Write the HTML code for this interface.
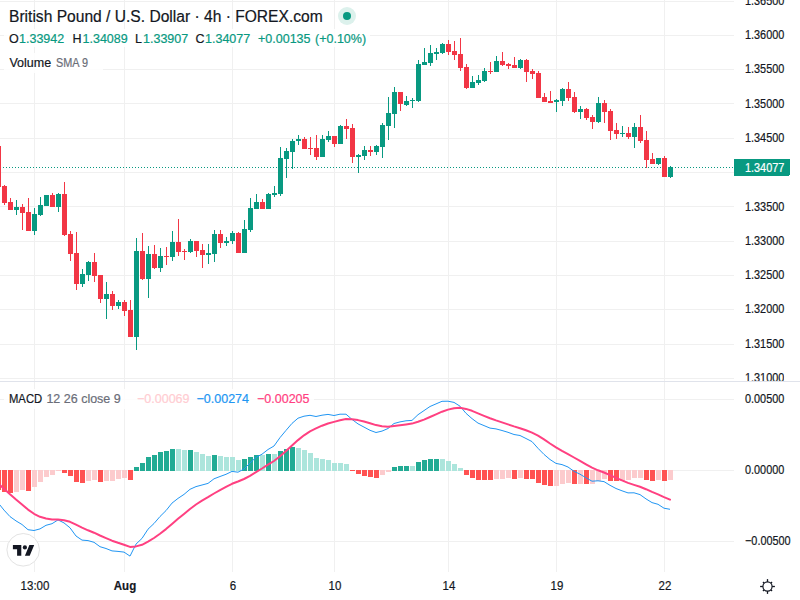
<!DOCTYPE html>
<html><head><meta charset="utf-8">
<style>
html,body{margin:0;padding:0;}
body{width:800px;height:600px;overflow:hidden;background:#fff;position:relative;font-family:"Liberation Sans",sans-serif;color:#131722;-webkit-text-stroke:0.2px currentColor;}
svg{position:absolute;left:0;top:0;}
.t{position:absolute;white-space:pre;line-height:1;}
.ax{position:absolute;left:744.8px;font-size:12.5px;white-space:pre;line-height:12px;transform:scaleX(0.87);transform-origin:0 0;}
.tm{position:absolute;top:580px;font-size:12.5px;white-space:pre;line-height:12px;transform:translateX(-50%) scaleX(0.92);}
.g{color:#089981;}
</style></head><body>
<svg width="800" height="600" viewBox="0 0 800 600" shape-rendering="crispEdges">
<rect x="0" y="1" width="734" height="1" fill="#f0f0f0"/>
<rect x="0" y="35" width="734" height="1" fill="#f0f0f0"/>
<rect x="0" y="69" width="734" height="1" fill="#f0f0f0"/>
<rect x="0" y="103" width="734" height="1" fill="#f0f0f0"/>
<rect x="0" y="138" width="734" height="1" fill="#f0f0f0"/>
<rect x="0" y="172" width="734" height="1" fill="#f0f0f0"/>
<rect x="0" y="206" width="734" height="1" fill="#f0f0f0"/>
<rect x="0" y="241" width="734" height="1" fill="#f0f0f0"/>
<rect x="0" y="275" width="734" height="1" fill="#f0f0f0"/>
<rect x="0" y="309" width="734" height="1" fill="#f0f0f0"/>
<rect x="0" y="344" width="734" height="1" fill="#f0f0f0"/>
<rect x="0" y="378" width="734" height="1" fill="#f0f0f0"/>
<rect x="0" y="399" width="734" height="1" fill="#f0f0f0"/>
<rect x="0" y="470" width="734" height="1" fill="#f0f0f0"/>
<rect x="0" y="541" width="734" height="1" fill="#f0f0f0"/>
<rect x="34" y="0" width="1" height="572" fill="#f0f0f0"/>
<rect x="124" y="0" width="1" height="572" fill="#f0f0f0"/>
<rect x="232" y="0" width="1" height="572" fill="#f0f0f0"/>
<rect x="334" y="0" width="1" height="572" fill="#f0f0f0"/>
<rect x="448" y="0" width="1" height="572" fill="#f0f0f0"/>
<rect x="556" y="0" width="1" height="572" fill="#f0f0f0"/>
<rect x="664" y="0" width="1" height="572" fill="#f0f0f0"/>
<rect x="4" y="29" width="366" height="18" fill="#fff" fill-opacity="0.85"/>
<rect x="4" y="53" width="99" height="20" fill="#fff" fill-opacity="0.85"/>
<rect x="4" y="389" width="310" height="20" fill="#fff" fill-opacity="0.85"/>
<rect x="0" y="381" width="800" height="1" fill="#e0e3eb"/>
<line x1="0" y1="167.5" x2="734" y2="167.5" stroke="#089981" stroke-width="1" stroke-dasharray="1 2"/>
<rect x="-2" y="146.0" width="1" height="41.0" fill="#F23645"/>
<rect x="-4" y="146.0" width="5" height="41.0" fill="#F23645"/>
<rect x="4" y="185.0" width="1" height="19.5" fill="#F23645"/>
<rect x="2" y="186.0" width="5" height="17.0" fill="#F23645"/>
<rect x="10" y="198.0" width="1" height="12.0" fill="#F23645"/>
<rect x="8" y="202.0" width="5" height="8.0" fill="#F23645"/>
<rect x="16" y="200.0" width="1" height="15.0" fill="#089981"/>
<rect x="14" y="207.0" width="5" height="3.0" fill="#089981"/>
<rect x="22" y="204.0" width="1" height="26.0" fill="#F23645"/>
<rect x="20" y="207.0" width="5" height="6.0" fill="#F23645"/>
<rect x="28" y="198.0" width="1" height="33.0" fill="#F23645"/>
<rect x="26" y="212.0" width="5" height="19.0" fill="#F23645"/>
<rect x="34" y="208.0" width="1" height="27.0" fill="#089981"/>
<rect x="32" y="214.0" width="5" height="17.0" fill="#089981"/>
<rect x="40" y="197.0" width="1" height="19.0" fill="#089981"/>
<rect x="38" y="205.0" width="5" height="10.0" fill="#089981"/>
<rect x="46" y="195.0" width="1" height="11.0" fill="#089981"/>
<rect x="44" y="195.0" width="5" height="11.0" fill="#089981"/>
<rect x="52" y="193.0" width="1" height="14.0" fill="#F23645"/>
<rect x="50" y="195.0" width="5" height="12.0" fill="#F23645"/>
<rect x="58" y="193.0" width="1" height="19.0" fill="#089981"/>
<rect x="56" y="194.0" width="5" height="13.0" fill="#089981"/>
<rect x="64" y="182.0" width="1" height="54.0" fill="#F23645"/>
<rect x="62" y="194.0" width="5" height="41.0" fill="#F23645"/>
<rect x="70" y="231.0" width="1" height="30.0" fill="#F23645"/>
<rect x="68" y="234.0" width="5" height="20.0" fill="#F23645"/>
<rect x="76" y="232.0" width="1" height="58.0" fill="#F23645"/>
<rect x="74" y="253.0" width="5" height="31.0" fill="#F23645"/>
<rect x="82" y="269.0" width="1" height="18.0" fill="#089981"/>
<rect x="80" y="274.0" width="5" height="10.0" fill="#089981"/>
<rect x="88" y="261.0" width="1" height="20.0" fill="#089981"/>
<rect x="86" y="262.0" width="5" height="13.0" fill="#089981"/>
<rect x="94" y="253.0" width="1" height="29.0" fill="#F23645"/>
<rect x="92" y="262.0" width="5" height="14.0" fill="#F23645"/>
<rect x="100" y="275.0" width="1" height="28.0" fill="#F23645"/>
<rect x="98" y="275.0" width="5" height="24.0" fill="#F23645"/>
<rect x="106" y="282.0" width="1" height="37.0" fill="#089981"/>
<rect x="104" y="294.0" width="5" height="5.0" fill="#089981"/>
<rect x="112" y="291.0" width="1" height="19.0" fill="#F23645"/>
<rect x="110" y="294.0" width="5" height="12.0" fill="#F23645"/>
<rect x="118" y="300.0" width="1" height="9.0" fill="#089981"/>
<rect x="116" y="302.0" width="5" height="4.0" fill="#089981"/>
<rect x="124" y="300.0" width="1" height="16.0" fill="#F23645"/>
<rect x="122" y="302.0" width="5" height="9.0" fill="#F23645"/>
<rect x="130" y="300.0" width="1" height="37.0" fill="#F23645"/>
<rect x="128" y="310.0" width="5" height="27.0" fill="#F23645"/>
<rect x="136" y="238.0" width="1" height="112.0" fill="#089981"/>
<rect x="134" y="251.0" width="5" height="86.0" fill="#089981"/>
<rect x="142" y="233.0" width="1" height="47.0" fill="#F23645"/>
<rect x="140" y="251.0" width="5" height="28.0" fill="#F23645"/>
<rect x="148" y="246.0" width="1" height="52.0" fill="#089981"/>
<rect x="146" y="254.0" width="5" height="25.0" fill="#089981"/>
<rect x="154" y="245.0" width="1" height="24.0" fill="#F23645"/>
<rect x="152" y="254.0" width="5" height="14.0" fill="#F23645"/>
<rect x="160" y="248.0" width="1" height="24.0" fill="#089981"/>
<rect x="158" y="256.0" width="5" height="12.0" fill="#089981"/>
<rect x="166" y="247.0" width="1" height="18.0" fill="#F23645"/>
<rect x="164" y="256.0" width="5" height="1" fill="#F23645"/>
<rect x="172" y="231.0" width="1" height="30.0" fill="#089981"/>
<rect x="170" y="242.0" width="5" height="15.0" fill="#089981"/>
<rect x="178" y="219.0" width="1" height="37.0" fill="#F23645"/>
<rect x="176" y="242.0" width="5" height="10.0" fill="#F23645"/>
<rect x="184" y="249.0" width="1" height="11.0" fill="#F23645"/>
<rect x="182" y="251.0" width="5" height="1" fill="#F23645"/>
<rect x="190" y="239.0" width="1" height="14.0" fill="#089981"/>
<rect x="188" y="241.0" width="5" height="11.0" fill="#089981"/>
<rect x="196" y="241.0" width="1" height="15.5" fill="#F23645"/>
<rect x="194" y="241.0" width="5" height="10.0" fill="#F23645"/>
<rect x="202" y="244.0" width="1" height="24.0" fill="#F23645"/>
<rect x="200" y="250.0" width="5" height="5.0" fill="#F23645"/>
<rect x="208" y="244.0" width="1" height="20.0" fill="#089981"/>
<rect x="206" y="253.0" width="5" height="2.0" fill="#089981"/>
<rect x="214" y="230.0" width="1" height="32.0" fill="#089981"/>
<rect x="212" y="234.0" width="5" height="19.5" fill="#089981"/>
<rect x="220" y="230.0" width="1" height="18.0" fill="#F23645"/>
<rect x="218" y="234.0" width="5" height="9.0" fill="#F23645"/>
<rect x="226" y="237.0" width="1" height="9.0" fill="#089981"/>
<rect x="224" y="240.5" width="5" height="2.5" fill="#089981"/>
<rect x="232" y="231.0" width="1" height="13.0" fill="#089981"/>
<rect x="230" y="233.0" width="5" height="7.5" fill="#089981"/>
<rect x="238" y="232.0" width="1" height="21.0" fill="#F23645"/>
<rect x="236" y="233.0" width="5" height="20.0" fill="#F23645"/>
<rect x="244" y="220.0" width="1" height="33.0" fill="#089981"/>
<rect x="242" y="229.0" width="5" height="24.0" fill="#089981"/>
<rect x="250" y="198.0" width="1" height="34.0" fill="#089981"/>
<rect x="248" y="208.0" width="5" height="22.0" fill="#089981"/>
<rect x="256" y="194.0" width="1" height="15.0" fill="#089981"/>
<rect x="254" y="202.0" width="5" height="7.0" fill="#089981"/>
<rect x="262" y="199.0" width="1" height="10.0" fill="#F23645"/>
<rect x="260" y="202.0" width="5" height="7.0" fill="#F23645"/>
<rect x="268" y="193.0" width="1" height="16.0" fill="#089981"/>
<rect x="266" y="194.0" width="5" height="15.0" fill="#089981"/>
<rect x="274" y="186.0" width="1" height="11.0" fill="#089981"/>
<rect x="272" y="193.0" width="5" height="2.0" fill="#089981"/>
<rect x="280" y="147.0" width="1" height="49.0" fill="#089981"/>
<rect x="278" y="158.0" width="5" height="36.0" fill="#089981"/>
<rect x="286" y="148.0" width="1" height="30.0" fill="#089981"/>
<rect x="284" y="151.0" width="5" height="8.0" fill="#089981"/>
<rect x="292" y="139.0" width="1" height="30.0" fill="#089981"/>
<rect x="290" y="141.0" width="5" height="11.0" fill="#089981"/>
<rect x="298" y="135.0" width="1" height="10.0" fill="#089981"/>
<rect x="296" y="139.0" width="5" height="2.0" fill="#089981"/>
<rect x="304" y="137.0" width="1" height="12.0" fill="#F23645"/>
<rect x="302" y="139.0" width="5" height="10.0" fill="#F23645"/>
<rect x="310" y="137.0" width="1" height="18.0" fill="#F23645"/>
<rect x="308" y="148.0" width="5" height="1" fill="#F23645"/>
<rect x="316" y="135.0" width="1" height="25.0" fill="#F23645"/>
<rect x="314" y="148.0" width="5" height="9.0" fill="#F23645"/>
<rect x="322" y="135.0" width="1" height="22.0" fill="#089981"/>
<rect x="320" y="139.0" width="5" height="18.0" fill="#089981"/>
<rect x="328" y="131.0" width="1" height="11.0" fill="#089981"/>
<rect x="326" y="136.0" width="5" height="4.0" fill="#089981"/>
<rect x="334" y="136.0" width="1" height="11.0" fill="#F23645"/>
<rect x="332" y="136.0" width="5" height="8.0" fill="#F23645"/>
<rect x="340" y="125.0" width="1" height="19.0" fill="#089981"/>
<rect x="338" y="126.0" width="5" height="18.0" fill="#089981"/>
<rect x="346" y="119.0" width="1" height="20.0" fill="#F23645"/>
<rect x="344" y="126.0" width="5" height="3.0" fill="#F23645"/>
<rect x="352" y="124.0" width="1" height="39.0" fill="#F23645"/>
<rect x="350" y="128.0" width="5" height="29.0" fill="#F23645"/>
<rect x="358" y="154.0" width="1" height="19.0" fill="#089981"/>
<rect x="356" y="155.0" width="5" height="2.0" fill="#089981"/>
<rect x="364" y="146.0" width="1" height="14.0" fill="#089981"/>
<rect x="362" y="150.0" width="5" height="6.0" fill="#089981"/>
<rect x="370" y="146.0" width="1" height="10.0" fill="#F23645"/>
<rect x="368" y="150.0" width="5" height="2.0" fill="#F23645"/>
<rect x="376" y="145.0" width="1" height="10.0" fill="#089981"/>
<rect x="374" y="146.0" width="5" height="6.0" fill="#089981"/>
<rect x="382" y="123.0" width="1" height="35.0" fill="#089981"/>
<rect x="380" y="125.0" width="5" height="22.0" fill="#089981"/>
<rect x="388" y="97.0" width="1" height="43.0" fill="#089981"/>
<rect x="386" y="113.0" width="5" height="13.0" fill="#089981"/>
<rect x="394" y="87.0" width="1" height="41.0" fill="#089981"/>
<rect x="392" y="92.0" width="5" height="22.0" fill="#089981"/>
<rect x="400" y="92.0" width="1" height="19.0" fill="#F23645"/>
<rect x="398" y="92.0" width="5" height="12.0" fill="#F23645"/>
<rect x="406" y="96.0" width="1" height="10.0" fill="#089981"/>
<rect x="404" y="101.0" width="5" height="4.0" fill="#089981"/>
<rect x="412" y="98.0" width="1" height="10.0" fill="#089981"/>
<rect x="410" y="100.0" width="5" height="1" fill="#089981"/>
<rect x="418" y="60.0" width="1" height="42.0" fill="#089981"/>
<rect x="416" y="64.0" width="5" height="37.0" fill="#089981"/>
<rect x="424" y="48.0" width="1" height="17.0" fill="#089981"/>
<rect x="422" y="62.0" width="5" height="3.0" fill="#089981"/>
<rect x="430" y="45.0" width="1" height="21.0" fill="#089981"/>
<rect x="428" y="53.0" width="5" height="10.0" fill="#089981"/>
<rect x="436" y="48.0" width="1" height="12.0" fill="#089981"/>
<rect x="434" y="52.0" width="5" height="2.0" fill="#089981"/>
<rect x="442" y="43.0" width="1" height="11.0" fill="#089981"/>
<rect x="440" y="44.0" width="5" height="9.0" fill="#089981"/>
<rect x="448" y="40.0" width="1" height="15.0" fill="#F23645"/>
<rect x="446" y="44.0" width="5" height="8.0" fill="#F23645"/>
<rect x="454" y="41.0" width="1" height="19.0" fill="#F23645"/>
<rect x="452" y="51.0" width="5" height="4.0" fill="#F23645"/>
<rect x="460" y="38.0" width="1" height="33.0" fill="#F23645"/>
<rect x="458" y="54.0" width="5" height="14.0" fill="#F23645"/>
<rect x="466" y="64.0" width="1" height="25.0" fill="#F23645"/>
<rect x="464" y="67.0" width="5" height="21.0" fill="#F23645"/>
<rect x="472" y="76.0" width="1" height="12.0" fill="#089981"/>
<rect x="470" y="82.0" width="5" height="6.0" fill="#089981"/>
<rect x="478" y="75.0" width="1" height="10.0" fill="#089981"/>
<rect x="476" y="80.0" width="5" height="2.5" fill="#089981"/>
<rect x="484" y="68.0" width="1" height="14.0" fill="#089981"/>
<rect x="482" y="71.0" width="5" height="10.0" fill="#089981"/>
<rect x="490" y="62.0" width="1" height="12.0" fill="#F23645"/>
<rect x="488" y="71.0" width="5" height="1" fill="#F23645"/>
<rect x="496" y="56.0" width="1" height="16.0" fill="#089981"/>
<rect x="494" y="61.0" width="5" height="11.0" fill="#089981"/>
<rect x="502" y="52.0" width="1" height="14.0" fill="#F23645"/>
<rect x="500" y="61.0" width="5" height="4.0" fill="#F23645"/>
<rect x="508" y="63.0" width="1" height="6.0" fill="#F23645"/>
<rect x="506" y="64.0" width="5" height="1.5" fill="#F23645"/>
<rect x="514" y="57.0" width="1" height="11.0" fill="#F23645"/>
<rect x="512" y="65.0" width="5" height="3.0" fill="#F23645"/>
<rect x="520" y="59.0" width="1" height="10.0" fill="#089981"/>
<rect x="518" y="60.0" width="5" height="8.0" fill="#089981"/>
<rect x="526" y="59.0" width="1" height="23.0" fill="#F23645"/>
<rect x="524" y="60.0" width="5" height="12.0" fill="#F23645"/>
<rect x="532" y="69.0" width="1" height="10.0" fill="#F23645"/>
<rect x="530" y="71.0" width="5" height="3.0" fill="#F23645"/>
<rect x="538" y="71.0" width="1" height="27.0" fill="#F23645"/>
<rect x="536" y="73.0" width="5" height="25.0" fill="#F23645"/>
<rect x="544" y="93.0" width="1" height="9.0" fill="#F23645"/>
<rect x="542" y="97.0" width="5" height="5.0" fill="#F23645"/>
<rect x="550" y="91.0" width="1" height="11.5" fill="#F23645"/>
<rect x="548" y="101.0" width="5" height="1.5" fill="#F23645"/>
<rect x="556" y="99.0" width="1" height="13.0" fill="#089981"/>
<rect x="554" y="100.0" width="5" height="2.0" fill="#089981"/>
<rect x="562" y="88.0" width="1" height="18.0" fill="#089981"/>
<rect x="560" y="89.0" width="5" height="12.0" fill="#089981"/>
<rect x="568" y="82.0" width="1" height="19.0" fill="#F23645"/>
<rect x="566" y="89.0" width="5" height="9.0" fill="#F23645"/>
<rect x="574" y="92.0" width="1" height="21.0" fill="#F23645"/>
<rect x="572" y="97.0" width="5" height="15.0" fill="#F23645"/>
<rect x="580" y="106.0" width="1" height="13.0" fill="#089981"/>
<rect x="578" y="109.0" width="5" height="3.0" fill="#089981"/>
<rect x="586" y="108.0" width="1" height="12.0" fill="#F23645"/>
<rect x="584" y="109.0" width="5" height="9.0" fill="#F23645"/>
<rect x="592" y="115.0" width="1" height="14.0" fill="#F23645"/>
<rect x="590" y="117.0" width="5" height="5.0" fill="#F23645"/>
<rect x="598" y="97.0" width="1" height="26.0" fill="#089981"/>
<rect x="596" y="103.0" width="5" height="19.0" fill="#089981"/>
<rect x="604" y="100.0" width="1" height="23.0" fill="#F23645"/>
<rect x="602" y="103.0" width="5" height="8.5" fill="#F23645"/>
<rect x="610" y="109.0" width="1" height="31.0" fill="#F23645"/>
<rect x="608" y="111.0" width="5" height="20.0" fill="#F23645"/>
<rect x="616" y="123.0" width="1" height="16.0" fill="#F23645"/>
<rect x="614" y="130.0" width="5" height="4.0" fill="#F23645"/>
<rect x="622" y="126.0" width="1" height="11.0" fill="#089981"/>
<rect x="620" y="133.0" width="5" height="1" fill="#089981"/>
<rect x="628" y="127.0" width="1" height="12.0" fill="#F23645"/>
<rect x="626" y="133.0" width="5" height="4.0" fill="#F23645"/>
<rect x="634" y="123.0" width="1" height="25.0" fill="#089981"/>
<rect x="632" y="127.0" width="5" height="10.0" fill="#089981"/>
<rect x="640" y="115.0" width="1" height="28.0" fill="#F23645"/>
<rect x="638" y="127.0" width="5" height="14.0" fill="#F23645"/>
<rect x="646" y="131.0" width="1" height="37.0" fill="#F23645"/>
<rect x="644" y="140.0" width="5" height="20.0" fill="#F23645"/>
<rect x="652" y="153.0" width="1" height="11.0" fill="#F23645"/>
<rect x="650" y="159.0" width="5" height="5.0" fill="#F23645"/>
<rect x="658" y="158.0" width="1" height="7.0" fill="#089981"/>
<rect x="656" y="158.0" width="5" height="6.0" fill="#089981"/>
<rect x="664" y="156.0" width="1" height="21.0" fill="#F23645"/>
<rect x="662" y="158.0" width="5" height="19.0" fill="#F23645"/>
<rect x="670" y="166.0" width="1" height="12.0" fill="#089981"/>
<rect x="668" y="167.0" width="5" height="10.0" fill="#089981"/>
<rect x="-4" y="470" width="5" height="19.6" fill="#ff5252"/>
<rect x="2" y="470" width="5" height="21.7" fill="#ff5252"/>
<rect x="8" y="470" width="5" height="22.7" fill="#ff5252"/>
<rect x="14" y="470" width="5" height="21.7" fill="#fccbcd"/>
<rect x="20" y="470" width="5" height="20.3" fill="#fccbcd"/>
<rect x="26" y="470" width="5" height="20.5" fill="#ff5252"/>
<rect x="32" y="470" width="5" height="17.0" fill="#fccbcd"/>
<rect x="38" y="470" width="5" height="12.4" fill="#fccbcd"/>
<rect x="44" y="470" width="5" height="7.2" fill="#fccbcd"/>
<rect x="50" y="470" width="5" height="4.5" fill="#fccbcd"/>
<rect x="56" y="470" width="5" height="0.6" fill="#fccbcd"/>
<rect x="62" y="470" width="5" height="3.0" fill="#ff5252"/>
<rect x="68" y="470" width="5" height="6.4" fill="#ff5252"/>
<rect x="74" y="470" width="5" height="11.7" fill="#ff5252"/>
<rect x="80" y="470" width="5" height="12.8" fill="#ff5252"/>
<rect x="86" y="470" width="5" height="10.7" fill="#fccbcd"/>
<rect x="92" y="470" width="5" height="10.0" fill="#fccbcd"/>
<rect x="98" y="470" width="5" height="11.5" fill="#ff5252"/>
<rect x="104" y="470" width="5" height="10.8" fill="#fccbcd"/>
<rect x="110" y="470" width="5" height="10.6" fill="#fccbcd"/>
<rect x="116" y="470" width="5" height="8.9" fill="#fccbcd"/>
<rect x="122" y="470" width="5" height="7.8" fill="#fccbcd"/>
<rect x="128" y="470" width="5" height="9.5" fill="#ff5252"/>
<rect x="134" y="467.1" width="5" height="3.9" fill="#22ab94"/>
<rect x="140" y="463.0" width="5" height="8.0" fill="#22ab94"/>
<rect x="146" y="456.9" width="5" height="14.1" fill="#22ab94"/>
<rect x="152" y="454.8" width="5" height="16.2" fill="#22ab94"/>
<rect x="158" y="452.1" width="5" height="18.9" fill="#22ab94"/>
<rect x="164" y="450.8" width="5" height="20.2" fill="#22ab94"/>
<rect x="170" y="448.6" width="5" height="22.4" fill="#22ab94"/>
<rect x="176" y="449.0" width="5" height="22.0" fill="#ace5dc"/>
<rect x="182" y="449.8" width="5" height="21.2" fill="#ace5dc"/>
<rect x="188" y="449.7" width="5" height="21.3" fill="#22ab94"/>
<rect x="194" y="451.5" width="5" height="19.5" fill="#ace5dc"/>
<rect x="200" y="453.7" width="5" height="17.3" fill="#ace5dc"/>
<rect x="206" y="455.6" width="5" height="15.4" fill="#ace5dc"/>
<rect x="212" y="454.7" width="5" height="16.3" fill="#22ab94"/>
<rect x="218" y="455.7" width="5" height="15.3" fill="#ace5dc"/>
<rect x="224" y="456.7" width="5" height="14.3" fill="#ace5dc"/>
<rect x="230" y="456.9" width="5" height="14.1" fill="#ace5dc"/>
<rect x="236" y="460.0" width="5" height="11.0" fill="#ace5dc"/>
<rect x="242" y="459.3" width="5" height="11.7" fill="#22ab94"/>
<rect x="248" y="456.6" width="5" height="14.4" fill="#22ab94"/>
<rect x="254" y="454.7" width="5" height="16.3" fill="#22ab94"/>
<rect x="260" y="455.0" width="5" height="16.0" fill="#ace5dc"/>
<rect x="266" y="454.2" width="5" height="16.8" fill="#22ab94"/>
<rect x="272" y="454.3" width="5" height="16.7" fill="#ace5dc"/>
<rect x="278" y="450.7" width="5" height="20.3" fill="#22ab94"/>
<rect x="284" y="448.6" width="5" height="22.4" fill="#22ab94"/>
<rect x="290" y="447.2" width="5" height="23.8" fill="#22ab94"/>
<rect x="296" y="447.5" width="5" height="23.5" fill="#ace5dc"/>
<rect x="302" y="450.2" width="5" height="20.8" fill="#ace5dc"/>
<rect x="308" y="453.3" width="5" height="17.7" fill="#ace5dc"/>
<rect x="314" y="457.5" width="5" height="13.5" fill="#ace5dc"/>
<rect x="320" y="458.8" width="5" height="12.2" fill="#ace5dc"/>
<rect x="326" y="460.3" width="5" height="10.7" fill="#ace5dc"/>
<rect x="332" y="463.0" width="5" height="8.0" fill="#ace5dc"/>
<rect x="338" y="463.2" width="5" height="7.8" fill="#ace5dc"/>
<rect x="344" y="464.4" width="5" height="6.6" fill="#ace5dc"/>
<rect x="350" y="470" width="5" height="0.6" fill="#ff5252"/>
<rect x="356" y="470" width="5" height="4.1" fill="#ff5252"/>
<rect x="362" y="470" width="5" height="6.0" fill="#ff5252"/>
<rect x="368" y="470" width="5" height="7.4" fill="#ff5252"/>
<rect x="374" y="470" width="5" height="7.7" fill="#ff5252"/>
<rect x="380" y="470" width="5" height="5.1" fill="#fccbcd"/>
<rect x="386" y="470" width="5" height="2.1" fill="#fccbcd"/>
<rect x="392" y="466.7" width="5" height="4.3" fill="#22ab94"/>
<rect x="398" y="466.0" width="5" height="5.0" fill="#22ab94"/>
<rect x="404" y="465.8" width="5" height="5.2" fill="#22ab94"/>
<rect x="410" y="466.2" width="5" height="4.8" fill="#ace5dc"/>
<rect x="416" y="462.3" width="5" height="8.7" fill="#22ab94"/>
<rect x="422" y="460.4" width="5" height="10.6" fill="#22ab94"/>
<rect x="428" y="458.9" width="5" height="12.1" fill="#22ab94"/>
<rect x="434" y="458.9" width="5" height="12.1" fill="#22ab94"/>
<rect x="440" y="458.9" width="5" height="12.1" fill="#ace5dc"/>
<rect x="446" y="460.9" width="5" height="10.1" fill="#ace5dc"/>
<rect x="452" y="463.5" width="5" height="7.5" fill="#ace5dc"/>
<rect x="458" y="467.8" width="5" height="3.2" fill="#ace5dc"/>
<rect x="464" y="470" width="5" height="4.8" fill="#ff5252"/>
<rect x="470" y="470" width="5" height="8.2" fill="#ff5252"/>
<rect x="476" y="470" width="5" height="10.2" fill="#ff5252"/>
<rect x="482" y="470" width="5" height="10.2" fill="#ff5252"/>
<rect x="488" y="470" width="5" height="10.3" fill="#ff5252"/>
<rect x="494" y="470" width="5" height="8.9" fill="#fccbcd"/>
<rect x="500" y="470" width="5" height="8.5" fill="#fccbcd"/>
<rect x="506" y="470" width="5" height="8.3" fill="#fccbcd"/>
<rect x="512" y="470" width="5" height="8.5" fill="#ff5252"/>
<rect x="518" y="470" width="5" height="7.7" fill="#fccbcd"/>
<rect x="524" y="470" width="5" height="8.6" fill="#ff5252"/>
<rect x="530" y="470" width="5" height="9.4" fill="#ff5252"/>
<rect x="536" y="470" width="5" height="12.9" fill="#ff5252"/>
<rect x="542" y="470" width="5" height="15.3" fill="#ff5252"/>
<rect x="548" y="470" width="5" height="16.4" fill="#ff5252"/>
<rect x="554" y="470" width="5" height="16.3" fill="#fccbcd"/>
<rect x="560" y="470" width="5" height="14.1" fill="#fccbcd"/>
<rect x="566" y="470" width="5" height="13.3" fill="#fccbcd"/>
<rect x="572" y="470" width="5" height="14.1" fill="#ff5252"/>
<rect x="578" y="470" width="5" height="13.7" fill="#fccbcd"/>
<rect x="584" y="470" width="5" height="13.9" fill="#ff5252"/>
<rect x="590" y="470" width="5" height="13.9" fill="#fccbcd"/>
<rect x="596" y="470" width="5" height="10.9" fill="#fccbcd"/>
<rect x="602" y="470" width="5" height="9.4" fill="#fccbcd"/>
<rect x="608" y="470" width="5" height="10.5" fill="#ff5252"/>
<rect x="614" y="470" width="5" height="11.1" fill="#ff5252"/>
<rect x="620" y="470" width="5" height="10.8" fill="#fccbcd"/>
<rect x="626" y="470" width="5" height="10.4" fill="#fccbcd"/>
<rect x="632" y="470" width="5" height="8.3" fill="#fccbcd"/>
<rect x="638" y="470" width="5" height="8.1" fill="#fccbcd"/>
<rect x="644" y="470" width="5" height="10.0" fill="#ff5252"/>
<rect x="650" y="470" width="5" height="11.0" fill="#ff5252"/>
<rect x="656" y="470" width="5" height="10.2" fill="#fccbcd"/>
<rect x="662" y="470" width="5" height="11.4" fill="#ff5252"/>
<rect x="668" y="470" width="5" height="10.1" fill="#fccbcd"/>
<polyline points="-2,502.6 4,510.1 10,516.6 16,520.9 22,524.5 28,529.7 34,530.5 40,528.9 46,525.3 52,523.7 58,519.9 64,522.9 70,527.8 76,536.0 82,540.1 88,540.6 94,542.3 100,546.7 106,548.5 112,550.9 118,551.4 124,552.1 130,556.1 136,544.1 142,538.4 148,529.2 154,523.5 160,516.5 166,510.6 172,503.1 178,498.4 184,494.4 190,489.3 196,486.6 202,485.0 208,483.4 214,478.8 220,476.5 226,474.3 232,471.4 238,472.2 244,469.0 250,463.0 256,457.4 262,454.2 268,449.5 274,446.0 280,437.6 286,430.4 292,423.4 298,418.2 304,416.2 310,415.3 316,416.5 322,415.2 328,414.4 334,415.5 340,414.2 346,414.2 352,419.4 358,423.9 364,427.1 370,430.3 376,432.5 382,431.1 388,428.5 394,423.5 400,421.9 406,420.8 412,420.4 418,414.7 424,410.6 430,406.5 436,403.9 442,401.3 448,401.2 454,402.4 460,406.2 466,413.3 472,418.6 478,423.1 484,425.6 490,428.1 496,428.9 502,430.5 508,432.3 514,434.5 520,435.5 526,438.5 532,441.6 538,448.3 544,454.4 550,459.5 556,463.4 562,464.6 568,467.0 574,471.3 580,474.2 586,477.8 592,481.2 598,480.8 604,481.6 610,485.3 616,488.5 622,490.8 628,492.9 634,492.8 640,494.6 646,498.9 652,502.6 658,504.3 664,508.2 670,509.3" fill="none" stroke="#2196f3" stroke-width="1" stroke-linejoin="round" shape-rendering="geometricPrecision"/>
<polyline points="-2,483.3 4,488.7 10,494.3 16,499.6 22,504.6 28,509.6 34,513.8 40,516.8 46,518.5 52,519.6 58,519.6 64,520.3 70,521.8 76,524.6 82,527.7 88,530.3 94,532.7 100,535.5 106,538.1 112,540.7 118,542.8 124,544.7 130,546.9 136,546.4 142,544.8 148,541.7 154,538.0 160,533.7 166,529.1 172,523.9 178,518.8 184,513.9 190,509.0 196,504.5 202,500.6 208,497.2 214,493.5 220,490.1 226,486.9 232,483.8 238,481.5 244,479.0 250,475.8 256,472.1 262,468.5 268,464.7 274,461.0 280,456.3 286,451.1 292,445.6 298,440.1 304,435.3 310,431.3 316,428.4 322,425.7 328,423.5 334,421.9 340,420.3 346,419.1 352,419.2 358,420.1 364,421.5 370,423.3 376,425.1 382,426.3 388,426.8 394,426.1 400,425.3 406,424.4 412,423.6 418,421.8 424,419.6 430,417.0 436,414.3 442,411.7 448,409.6 454,408.2 460,407.8 466,408.9 472,410.8 478,413.3 484,415.8 490,418.2 496,420.4 502,422.4 508,424.4 514,426.4 520,428.2 526,430.3 532,432.6 538,435.7 544,439.4 550,443.5 556,447.4 562,450.9 568,454.1 574,457.5 580,460.9 586,464.3 592,467.7 598,470.3 604,472.5 610,475.1 616,477.8 622,480.4 628,482.9 634,484.9 640,486.8 646,489.2 652,491.9 658,494.4 664,497.1 670,499.6" fill="none" stroke="#ff4081" stroke-width="2" stroke-linejoin="round" stroke-linecap="round" shape-rendering="geometricPrecision"/>
<path d="M734 159H788a2 2 0 0 1 2 2V174a2 2 0 0 1 -2 2H734Z" fill="#089981"/>
<circle cx="23.2" cy="549.8" r="16.3" fill="#fff" stroke="#e3e3e3" stroke-width="1" shape-rendering="geometricPrecision"/>
<g transform="translate(12.9,542.6) scale(0.6)" fill="#131722" shape-rendering="geometricPrecision"><path d="M14 22H7V11H0V4h14v18zM28 22h-8l7.5-18h8L28 22z"/><circle cx="20" cy="8" r="3.5"/></g>
<g transform="translate(767.5,586.5)" stroke="#131722" fill="none" shape-rendering="geometricPrecision"><circle r="4.6" stroke-width="1.2"/><line x1="4.60" y1="0.00" x2="7.40" y2="0.00" stroke-width="1.3"/><line x1="3.25" y1="3.25" x2="4.53" y2="4.53" stroke-width="1.3"/><line x1="0.00" y1="4.60" x2="0.00" y2="7.40" stroke-width="1.3"/><line x1="-3.25" y1="3.25" x2="-4.53" y2="4.53" stroke-width="1.3"/><line x1="-4.60" y1="0.00" x2="-7.40" y2="0.00" stroke-width="1.3"/><line x1="-3.25" y1="-3.25" x2="-4.53" y2="-4.53" stroke-width="1.3"/><line x1="-0.00" y1="-4.60" x2="-0.00" y2="-7.40" stroke-width="1.3"/><line x1="3.25" y1="-3.25" x2="4.53" y2="-4.53" stroke-width="1.3"/></g>
</svg>
<div class="t" style="left:9px;top:9px;font-size:15.6px;">British Pound / U.S. Dollar · 4h · FOREX.com</div>
<div style="position:absolute;left:338px;top:7px;width:18px;height:18px;border-radius:50%;background:#dcf1ec;"></div>
<div style="position:absolute;left:343px;top:12px;width:8px;height:8px;border-radius:50%;background:#089981;"></div>
<div class="t " style="left:9px;top:33px;font-size:12.5px;">O</div>
<div class="t g" style="left:19px;top:33px;font-size:12.5px;">1.33942</div>
<div class="t " style="left:72.5px;top:33px;font-size:12.5px;">H</div>
<div class="t g" style="left:82.5px;top:33px;font-size:12.5px;">1.34089</div>
<div class="t " style="left:135px;top:33px;font-size:12.5px;">L</div>
<div class="t g" style="left:143px;top:33px;font-size:12.5px;">1.33907</div>
<div class="t " style="left:195.5px;top:33px;font-size:12.5px;">C</div>
<div class="t g" style="left:205px;top:33px;font-size:12.5px;">1.34077</div>
<div class="t g" style="left:258px;top:33px;font-size:12.5px;">+0.00135</div>
<div class="t g" style="left:315px;top:33px;font-size:12.5px;">(+0.10%)</div>
<div class="t" style="left:9.4px;top:57px;font-size:12.5px;">Volume</div>
<div class="t" style="left:56.2px;top:57px;font-size:12.5px;color:#6a6d78;transform:scaleX(0.87);transform-origin:0 0">SMA 9</div>
<div class="t" style="left:8.8px;top:393px;font-size:12.5px;transform:scaleX(0.9);transform-origin:0 0">MACD</div>
<div class="t" style="left:46.4px;top:393px;font-size:12.5px;color:#6a6d78">12 26 close 9</div>
<div class="t" style="left:137px;top:393px;font-size:12.5px;color:#ffcdd2">−0.00069</div>
<div class="t" style="left:196.5px;top:393px;font-size:12.5px;color:#2196f3">−0.00274</div>
<div class="t" style="left:257px;top:393px;font-size:12.5px;color:#ff4081">−0.00205</div>
<div class="ax" style="top:-5.30px">1.36500</div>
<div class="ax" style="top:29.00px">1.36000</div>
<div class="ax" style="top:63.30px">1.35500</div>
<div class="ax" style="top:97.60px">1.35000</div>
<div class="ax" style="top:131.90px">1.34500</div>
<div class="ax" style="top:200.50px">1.33500</div>
<div class="ax" style="top:234.80px">1.33000</div>
<div class="ax" style="top:269.10px">1.32500</div>
<div class="ax" style="top:303.40px">1.32000</div>
<div class="ax" style="top:337.70px">1.31500</div>
<div class="ax" style="top:372.0px;height:9px;overflow:hidden">1.31000</div>
<div class="ax" style="top:393.3px">0.00500</div>
<div class="ax" style="top:464.35px">0.00000</div>
<div class="ax" style="top:535.4px">−0.00500</div>
<div class="ax" style="top:161.5px;color:#fff">1.34077</div>
<div class="tm" style="left:34.5px;">13:00</div>
<div class="tm" style="left:124.5px;font-weight:bold;">Aug</div>
<div class="tm" style="left:232.5px;">6</div>
<div class="tm" style="left:334.5px;">10</div>
<div class="tm" style="left:448.5px;">14</div>
<div class="tm" style="left:556.5px;">19</div>
<div class="tm" style="left:664.5px;">22</div>
</body></html>
